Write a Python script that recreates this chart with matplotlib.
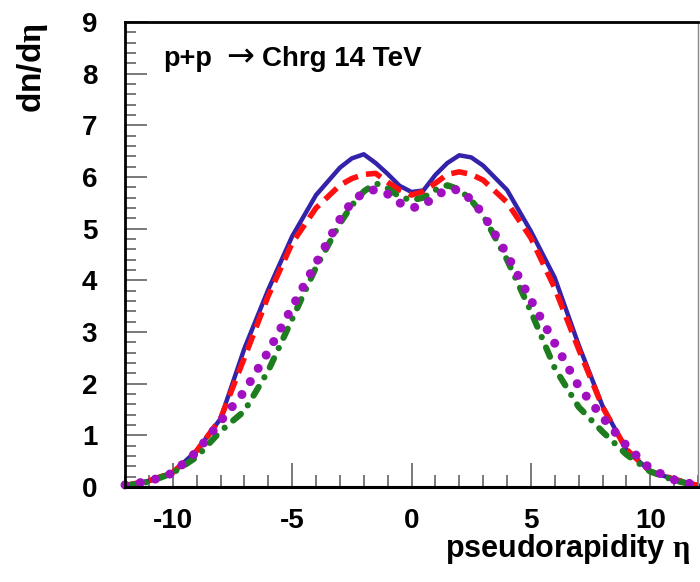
import matplotlib
matplotlib.use("Agg")
import matplotlib.pyplot as plt
import matplotlib.transforms as mtransforms
from matplotlib.ticker import MultipleLocator

plt.rcParams['font.family'] = ['Liberation Sans', 'DejaVu Sans']
plt.rcParams['font.weight'] = 'bold'
plt.rcParams['axes.unicode_minus'] = False
plt.rcParams['mathtext.fontset'] = 'custom'
plt.rcParams['mathtext.rm'] = 'Liberation Serif'

# pseudorapidity grid and dn/deta
eta = [-12, -11, -10, -9, -8, -7, -6, -5, -4, -3, -2.5, -2, -1.5, -1, -0.5,
       0, 0.5, 1, 1.5, 2, 2.5, 3, 4, 5, 6, 7, 8, 9, 10, 11, 12]
blue = [0.03, 0.12, 0.28, 0.70, 1.32, 2.68, 3.82, 4.85, 5.65, 6.18, 6.36, 6.44, 6.27, 6.06, 5.83,
        5.71, 5.74, 6.04, 6.27, 6.42, 6.38, 6.22, 5.75, 4.95, 4.05, 2.75, 1.57, 0.72, 0.30, 0.15, 0.03]
red = [0.03, 0.12, 0.28, 0.70, 1.32, 2.50, 3.70, 4.72, 5.40, 5.84, 5.97, 6.05, 6.07, 5.90, 5.75,
       5.65, 5.72, 5.88, 6.05, 6.10, 6.05, 5.94, 5.51, 4.82, 3.85, 2.67, 1.55, 0.73, 0.30, 0.15, 0.03]
green = [0.02, 0.10, 0.27, 0.58, 1.08, 1.47, 2.25, 3.25, 4.25, 5.10, 5.45, 5.72, 5.88, 5.78, 5.62,
         5.55, 5.60, 5.75, 5.84, 5.76, 5.55, 5.26, 4.40, 3.40, 2.30, 1.55, 1.07, 0.63, 0.30, 0.13, 0.02]
purple = [0.04, 0.11, 0.27, 0.68, 1.27, 1.85, 2.62, 3.48, 4.33, 5.18, 5.52, 5.70, 5.76, 5.67, 5.50,
          5.40, 5.45, 5.63, 5.76, 5.75, 5.56, 5.28, 4.50, 3.62, 2.78, 1.95, 1.35, 0.80, 0.35, 0.14, 0.03]

fig = plt.figure(figsize=(7, 5.82), dpi=100)
ax = fig.add_axes([125 / 700, 1 - 487 / 582, 573 / 700, 465 / 582])

ax.plot(eta, blue, color='#3322aa', lw=3.2, clip_on=False)
ax.plot(eta, red, color='#ff1010', lw=4.0, dashes=(2.9, 1.5), clip_on=False)
ax.plot(eta, green, color='#1e7d1e', lw=4.5, dashes=(1.6, 1.8, 0.01, 1.8),
        dash_capstyle='round', clip_on=False)
ax.plot(eta, purple, color='#a010c0', lw=6.5, dashes=(0.01, 1.7),
        dash_capstyle='round', clip_on=False)

ax.set_xlim(-12, 12)
ax.set_ylim(0, 9)

ax.xaxis.set_major_locator(MultipleLocator(5))
ax.xaxis.set_minor_locator(MultipleLocator(1))
ax.yaxis.set_major_locator(MultipleLocator(1))
ax.yaxis.set_minor_locator(MultipleLocator(0.2))

ax.tick_params(axis='x', which='major', direction='in', length=17, width=1.1,
               color='#555555', labelsize=20, pad=15)
ax.tick_params(axis='x', which='minor', direction='in', length=8.5, width=1.1, color='#555555')
ax.tick_params(axis='y', which='major', direction='in', length=16, width=1.1,
               color='#555555', labelsize=20, pad=20)
ax.tick_params(axis='y', which='minor', direction='in', length=8, width=1.1, color='#555555')
for lab in ax.get_xticklabels() + ax.get_yticklabels():
    lab.set_fontweight('bold')

ax.spines['left'].set_linewidth(2.0)
ax.spines['bottom'].set_linewidth(2.2)
ax.spines['top'].set_linewidth(2.0)
ax.spines['right'].set_linewidth(1.0)
ax.spines['right'].set_color('#888888')

# labels
trans_y = mtransforms.blended_transform_factory(fig.transFigure, ax.transAxes)
ax.text(41 / 700, 1.0 - 1 / 465, r'dn/d$\mathrm{\eta}$', transform=trans_y, rotation=90,
        rotation_mode='anchor', ha='right', va='baseline', fontsize=24, fontweight='bold')
fig.text(690 / 700, 1 - 557 / 582, r'pseudorapidity $\mathrm{\eta}$', ha='right', va='baseline',
         fontsize=22, fontweight='bold')

# title in three pieces: the arrow is a thin symbol in the original
base = 1 - 66 / 582
fig.text(163 / 700, base, 'p+p', ha='left', va='baseline', fontsize=19.5, fontweight='bold')
fig.text(226 / 700, base, '\u2192', ha='left', va='baseline', fontsize=24,
         fontweight='normal', family='DejaVu Sans')
fig.text(262 / 700, base, 'Chrg 14 TeV', ha='left', va='baseline', fontsize=20, fontweight='bold')

fig.savefig('out.png', dpi=100)
